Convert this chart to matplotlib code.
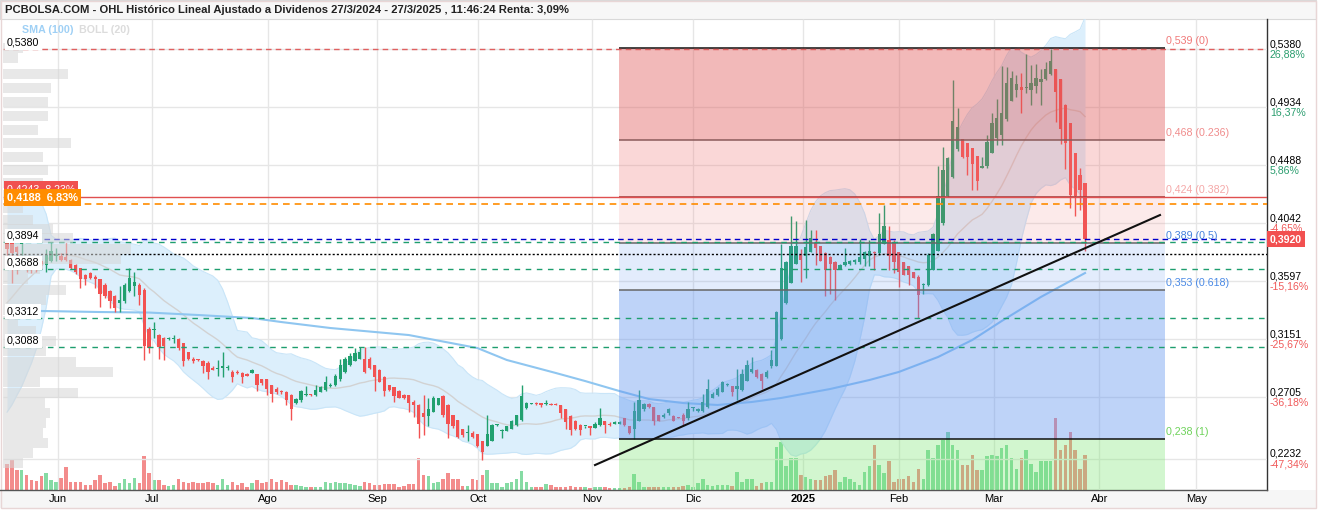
import matplotlib
matplotlib.use('Agg')
import matplotlib.pyplot as plt
import matplotlib.transforms as mtransforms
from matplotlib.patches import Rectangle
import numpy as np
import pandas as pd

plt.rcParams['font.family'] = ['Liberation Sans', 'DejaVu Sans']

# ---- velas diarias visibles (OHL, ajustado a dividendos) ----
opens = [
    .389, .389, .386, .388, .375, .374, .373, .375, .372, .375,
    .379, .379, .378, .376, .372, .370, .364, .366, .363, .361,
    .357, .352, .348, .343, .344, .352, .356, .357, .353, .323,
    .322, .318, .316, .315, .315, .315, .312, .305, .300, .300,
    .298, .297, .293, .292, .293, .293, .290, .290, .289, .288,
    .289, .288, .284, .284, .280, .277, .275, .274, .272, .266,
    .268, .272, .273, .272, .274, .276, .279, .280, .284, .290,
    .295, .298, .300, .300, .300, .295, .291, .286, .280, .278,
    .275, .272, .272, .267, .264, .258, .256, .259, .264, .271,
    .264, .257, .253, .246, .243, .243, .242, .237, .233, .237,
    .249, .244, .244, .246, .249, .253, .262, .265, .266, .266,
    .265, .265, .265, .264, .261, .256, .252, .249, .248, .248,
    .247, .249, .252, .250, .250, .250, .254, .248, .246, .252,
    .261, .265, .263, .257, .255, .258, .256, .255, .257, .254,
    .262, .260, .260, .263, .270, .272, .274, .280, .279, .277,
    .276, .283, .290, .291, .288, .286, .294, .294, .315, .343,
    .358, .373, .380, .379, .382, .389, .387, .381, .378, .374,
    .369, .372, .373, .374, .374, .377, .379, .382, .381, .388,
    .391, .390, .382, .374, .371, .367, .363, .357, .357, .368,
    .383, .404, .425, .440, .461, .469, .466, .462, .456, .447,
    .448, .458, .470, .472, .484, .498, .507, .509, .508, .507,
    .510, .513, .515, .519, .523, .515, .495, .481, .458, .441,
    .435,
]
highs = [
    .390, .390, .387, .390, .376, .375, .375, .377, .384, .389,
    .385, .381, .389, .377, .373, .370, .365, .367, .364, .361,
    .358, .353, .349, .356, .358, .370, .367, .358, .354, .324,
    .328, .319, .317, .317, .318, .316, .312, .305, .301, .300,
    .299, .298, .294, .299, .305, .295, .291, .291, .290, .289,
    .292, .288, .284, .284, .280, .278, .276, .275, .273, .270,
    .276, .279, .273, .280, .279, .287, .281, .288, .300, .301,
    .304, .308, .309, .309, .301, .295, .292, .287, .280, .278,
    .276, .273, .272, .268, .265, .272, .270, .271, .270, .272,
    .265, .257, .253, .246, .249, .244, .242, .237, .257, .250,
    .250, .246, .248, .253, .257, .280, .267, .266, .267, .266,
    .268, .266, .266, .264, .261, .257, .253, .250, .248, .248,
    .251, .262, .252, .251, .252, .252, .254, .248, .267, .276,
    .266, .266, .263, .257, .258, .262, .257, .255, .258, .267,
    .263, .262, .273, .284, .274, .278, .283, .281, .279, .292,
    .292, .299, .301, .292, .289, .291, .307, .337, .388, .375,
    .410, .406, .384, .407, .399, .399, .387, .382, .379, .375,
    .373, .385, .376, .377, .392, .383, .391, .383, .412, .418,
    .402, .391, .382, .374, .371, .367, .364, .358, .381, .397,
    .448, .463, .455, .514, .493, .469, .466, .462, .456, .455,
    .472, .489, .500, .525, .524, .521, .518, .520, .534, .526,
    .527, .523, .528, .538, .523, .515, .496, .481, .458, .447,
    .435,
]
lows = [
    .380, .358, .365, .380, .367, .366, .367, .369, .367, .374,
    .375, .375, .375, .369, .365, .354, .357, .361, .354, .340,
    .347, .339, .336, .336, .343, .351, .348, .341, .299, .304,
    .316, .300, .299, .314, .312, .307, .294, .299, .297, .298,
    .289, .284, .291, .287, .286, .291, .282, .288, .281, .287,
    .289, .275, .280, .272, .267, .273, .273, .264, .253, .265,
    .267, .271, .271, .271, .274, .275, .278, .279, .283, .289,
    .294, .298, .300, .289, .292, .275, .282, .271, .275, .267,
    .270, .269, .259, .255, .239, .241, .248, .259, .264, .255,
    .239, .247, .239, .240, .237, .239, .232, .222, .233, .237,
    .248, .239, .244, .246, .248, .252, .261, .265, .264, .263,
    .264, .264, .264, .254, .246, .241, .245, .241, .247, .241,
    .247, .248, .243, .248, .250, .250, .248, .242, .238, .252,
    .260, .262, .249, .252, .254, .257, .252, .254, .249, .253,
    .260, .259, .259, .262, .270, .271, .274, .279, .271, .268,
    .275, .283, .289, .285, .277, .285, .293, .294, .314, .342,
    .358, .373, .359, .362, .382, .372, .375, .348, .350, .345,
    .369, .371, .372, .373, .373, .371, .371, .368, .380, .388,
    .368, .366, .355, .364, .357, .362, .331, .350, .356, .368,
    .383, .403, .424, .439, .460, .454, .441, .430, .430, .447,
    .447, .458, .464, .464, .483, .498, .501, .489, .504, .495,
    .504, .495, .514, .518, .482, .465, .446, .416, .410, .414,
    .383,
]
closes = [
    .384, .381, .382, .389, .371, .370, .371, .373, .380, .383,
    .380, .376, .376, .370, .367, .361, .361, .362, .361, .350,
    .348, .344, .339, .345, .357, .362, .359, .349, .310, .308,
    .323, .309, .310, .316, .316, .308, .298, .300, .298, .299,
    .294, .290, .291, .293, .294, .293, .286, .289, .286, .287,
    .291, .280, .281, .277, .273, .274, .274, .268, .261, .269,
    .275, .273, .272, .276, .278, .282, .280, .287, .295, .300,
    .302, .304, .305, .290, .293, .286, .282, .275, .276, .271,
    .270, .270, .266, .264, .250, .255, .261, .270, .270, .257,
    .250, .248, .240, .241, .243, .240, .233, .228, .242, .249,
    .250, .245, .248, .252, .257, .271, .266, .266, .265, .264,
    .266, .264, .264, .258, .251, .245, .246, .245, .248, .247,
    .250, .254, .249, .249, .251, .251, .249, .243, .260, .268,
    .265, .263, .252, .252, .257, .261, .252, .254, .252, .261,
    .263, .261, .267, .277, .273, .277, .282, .280, .274, .279,
    .288, .295, .292, .286, .283, .290, .299, .336, .370, .374,
    .387, .387, .376, .386, .393, .385, .375, .368, .373, .368,
    .372, .374, .375, .376, .378, .382, .383, .381, .396, .402,
    .379, .374, .367, .364, .364, .362, .349, .357, .380, .396,
    .425, .445, .454, .483, .478, .455, .455, .450, .437, .448,
    .467, .481, .485, .489, .512, .516, .511, .507, .508, .512,
    .516, .515, .523, .529, .505, .477, .466, .426, .425, .430,
    .392,
]
volumes = [
    26, 31, 20, 20, 15, 10, 9, 14, 17, 10,
    8, 12, 23, 8, 8, 8, 5, 5, 10, 15,
    7, 8, 4, 7, 11, 7, 12, 7, 34, 17,
    10, 10, 5, 4, 5, 11, 8, 7, 8, 7,
    7, 8, 7, 5, 11, 5, 8, 5, 7, 3,
    7, 10, 7, 8, 11, 8, 10, 8, 5, 5,
    4, 3, 3, 3, 3, 8, 7, 8, 7, 7,
    6, 5, 4, 8, 7, 5, 5, 6, 6, 6,
    3, 4, 6, 6, 32, 15, 14, 7, 8, 11,
    17, 11, 11, 4, 4, 11, 10, 15, 20, 7,
    7, 3, 7, 8, 11, 19, 8, 3, 3, 3,
    6, 5, 3, 3, 3, 4, 3, 3, 3, 2,
    3, 3, 3, 2, 2, 2, 2, 3, 16, 8,
    3, 3, 3, 3, 3, 3, 3, 3, 4, 5,
    3, 7, 11, 5, 4, 5, 5, 5, 4, 18,
    8, 11, 11, 4, 7, 8, 8, 43, 48, 24,
    32, 32, 15, 13, 11, 10, 10, 14, 15, 20,
    8, 13, 11, 8, 5, 18, 24, 45, 25, 17,
    29, 8, 11, 11, 14, 8, 21, 11, 40, 32,
    45, 50, 58, 45, 40, 25, 25, 35, 20, 20,
    34, 35, 34, 42, 45, 32, 21, 32, 40, 26,
    18, 29, 29, 29, 72, 40, 45, 58, 40, 21,
    35,
]
# cierres anteriores a la ventana (solo alimentan la BOLL 20)
pre_closes = [.296, .292, .298, .294, .300, .297, .293, .299, .305, .356,
              .374, .381, .387, .379, .385, .389, .383, .386, .381]

# SMA (100)
sma_idx = [7, 19, 29, 39, 50, 56, 66, 82, 96, 102, 112, 118, 125, 131, 138,
           145, 152, 158, 168, 176, 182, 190, 197, 203, 211, 220]
sma_val = [.3367, .3359, .3355, .3336, .3313, .3282, .3236, .3182, .3082, .2990,
           .2890, .2828, .2751, .2690, .2659, .2644, .2667, .2698, .2767, .2836,
           .2898, .3013, .3144, .3290, .3475, .3659]

# perfil de volumen por precio (izquierda)
profile_prices = [.5390, .5313, .5190, .5082, .4975, .4867, .4759, .4659, .4552, .4451,
                  .4351, .4259, .4159, .4067, .3998, .3929, .3844, .3767, .3690, .3613,
                  .3528, .3451, .3374, .3290, .3213, .3136, .3059, .2975, .2898, .2821,
                  .2736, .2659, .2582, .2505, .2429, .2352, .2275, .2197]
profile_vols = [20, 15, 65, 48, 45, 45, 35, 68, 40, 45,
                40, 30, 20, 30, 50, 70, 128, 118, 37, 25,
                63, 43, 33, 15, 33, 53, 43, 73, 110, 37,
                75, 42, 47, 43, 40, 45, 30, 20]

month_labels = ['Jun', 'Jul', 'Ago', 'Sep', 'Oct', 'Nov', 'Dic', '2025', 'Feb', 'Mar', 'Abr', 'May']
month_pos = [10.4, 29.6, 53.3, 75.5, 96.1, 119.4, 140.0, 162.4, 182.0, 201.4, 222.9, 242.7]

axis_ticks = [0.5380, 0.4934, 0.4488, 0.4042, 0.3597, 0.3151, 0.2705, 0.2232]
axis_pcts = ['26,88%', '16,37%', '5,86%', '-4,65%', '-15,16%', '-25,67%', '-36,18%', '-47,34%']

fib_levels = [0.539, 0.468, 0.424, 0.389, 0.353, 0.238]
fib_ratios = ['0', '0.236', '0.382', '0.5', '0.618', '1']
fib_start, fib_end = 124.9, 236.3

support_levels = [0.3894, 0.3688, 0.3312, 0.3088]
top_level = 0.5380
red_level, red_pct = 0.4243, '8,23%'
orange_level, orange_pct = 0.4188, '6,83%'
avg_level = 0.3805
last_price = 0.3920
trend_x = [120.0, 235.3]
trend_y = [0.2182, 0.4105]

GREEN = '#21a06f'
RED = '#f25252'

W, H = 1320, 512


def fx(x):
    return x / W


def fy(y):
    return 1 - y / H


def fmt(v, nd=4):
    return f'{v:.{nd}f}'.replace('.', ',')


fig = plt.figure(figsize=(W / 100, H / 100), dpi=100)
fig.patch.set_facecolor('white')

rect = [fx(3), fy(490), 1264 / W, 471 / H]
ax_vol = fig.add_axes(rect, zorder=1)
ax = fig.add_axes(rect, zorder=2)
ax_vp = fig.add_axes(rect, zorder=3)

xmin, xmax = -0.816, 257.14
ymin, ymax = 0.1990, 0.5613
PX = 471 / (ymax - ymin)  # pixeles por unidad de precio

for a in (ax_vol, ax, ax_vp):
    a.set_ylim(ymin, ymax)
    a.axis('off')
ax_vol.set_xlim(xmin, xmax)
ax.set_xlim(xmin, xmax)
ax_vp.set_xlim(0, 1264)
ax_vol.set_ylim(0, 471)
ax.patch.set_alpha(0)
ax_vp.patch.set_alpha(0)

n = len(closes)
idx = np.arange(n)
o = np.array(opens)
h = np.array(highs)
l = np.array(lows)
c = np.array(closes)
up = c >= o

# ===== volumen =====
ax_vol.bar(idx, volumes, width=0.7, color=np.where(up, '#86dba4', '#f38c8c'), linewidth=0)

# ===== rejilla =====
ax.hlines(axis_ticks, xmin, xmax, colors='#e6e6e6', lw=1, zorder=0)
ax.vlines(month_pos, ymin, ymax, colors='#e6e6e6', lw=1, zorder=0)

# ===== Bollinger (20) =====
full = pd.Series(pre_closes + closes)
mid = full.rolling(20).mean().iloc[len(pre_closes):].values
sd = full.rolling(20).std(ddof=0).iloc[len(pre_closes):].values
ax.fill_between(idx, mid - 2 * sd, mid + 2 * sd, color='#dceffc', lw=0, zorder=1)
ax.plot(idx, mid + 2 * sd, color='#c9e5f8', lw=0.8, zorder=1)
ax.plot(idx, mid - 2 * sd, color='#c9e5f8', lw=0.8, zorder=1)
ax.plot(idx, mid, color='#d2d2d2', lw=1, zorder=1.5)

# ===== SMA (100) =====
ax.plot(sma_idx, sma_val, color='#8fc6f0', lw=1.5, zorder=2)

# ===== velas =====
col = np.where(up, GREEN, RED)
ax.vlines(idx, l, h, colors=col, lw=1, zorder=3)
body_low = np.minimum(o, c)
body_h = np.maximum(np.abs(c - o), 0.0008)
ax.bar(idx, body_h, bottom=body_low, width=0.68, color=col, linewidth=0, zorder=3)

# ===== Fibonacci =====
zone_styles = [('#e05a5a', 0.42), ('#f06e6e', 0.27), ('#f06e6e', 0.14),
               ('#6496f0', 0.18), ('#6496f0', 0.42)]
for (hi, lo), (zc, za) in zip(zip(fib_levels[:-1], fib_levels[1:]), zone_styles):
    ax.add_patch(Rectangle((fib_start, lo), fib_end - fib_start, hi - lo,
                           facecolor=zc, alpha=za, lw=0, zorder=4))
ax.add_patch(Rectangle((fib_start, ymin), fib_end - fib_start, fib_levels[-1] - ymin,
                       facecolor='#78e66e', alpha=0.33, lw=0, zorder=4))
fib_line_cols = ['#111111', '#8a5a5a', '#9a3a3a', '#666666', '#666666', '#111111']
fib_text_cols = ['#f07878', '#f08c8c', '#f5a8a8', '#4682dc', '#4a8ae6', '#6ed25a']
for lev, lc in zip(fib_levels, fib_line_cols):
    ax.hlines(lev, fib_start, fib_end, colors=lc, lw=1.1, zorder=5)

# ===== lineas horizontales =====
ax.hlines(top_level, xmin, xmax, colors='#e06060', lw=1, linestyles=(0, (4, 3)), zorder=5)
ax.hlines(red_level, xmin, xmax, colors='#e05050', lw=1, zorder=5)
ax.hlines(orange_level, xmin, xmax, colors='#ff8c00', lw=1.2, linestyles=(0, (4, 3)), zorder=5)
ax.hlines(support_levels, xmin, xmax, colors='#1e9e6e', lw=1, linestyles=(0, (4, 4)), zorder=5)
ax.hlines(avg_level, xmin, xmax, colors='#000000', lw=1, linestyles=(0, (1.5, 1.5)), zorder=5)
ax.hlines(last_price, 7.5, xmax, colors='#0000cc', lw=1, linestyles=(0, (4, 3)), zorder=5)

# linea de tendencia
ax.plot(trend_x, trend_y, color='#111111', lw=1.5, zorder=6)

# ===== perfil de volumen =====
ax_vp.barh(profile_prices, profile_vols, height=0.0074, left=0, color='#d6d6d6',
           alpha=0.55, lw=0, zorder=1)

# etiquetas izquierda
lbl_box = dict(boxstyle='square,pad=0.2', facecolor='white', edgecolor='none')
for lev in [top_level] + support_levels:
    ax_vp.text(4, lev + 6.5 / PX, fmt(lev), fontsize=7.7, ha='left', va='center',
               bbox=lbl_box, zorder=10, clip_on=False)
ax_vp.text(4, red_level + 8 / PX, f'{fmt(red_level)}  {red_pct}', fontsize=7.7, color='white',
           ha='left', va='center', zorder=10,
           bbox=dict(boxstyle='square,pad=0.25', facecolor='#f05050', edgecolor='none'))
ax_vp.text(4, orange_level + 7 / PX, f'{fmt(orange_level)}  {orange_pct}', fontsize=7.9,
           color='white', fontweight='bold', ha='left', va='center', zorder=11,
           bbox=dict(boxstyle='square,pad=0.3', facecolor='#ff8c00', edgecolor='none'))

# leyenda indicadores
ax_vp.text(19, ymax - 11 / PX, 'SMA (100)', color='#9fd0f5', fontsize=7.7,
           fontweight='bold', va='center', zorder=10)
ax_vp.text(76, ymax - 11 / PX, 'BOLL (20)', color='#dcdcdc', fontsize=7.7,
           fontweight='bold', va='center', zorder=10)

# etiquetas Fibonacci
fib_px = lambda i: 7 + 4.9 * i - 3
for lev, rt, tc in zip(fib_levels, fib_ratios, fib_text_cols):
    ax_vp.text(fib_px(fib_end) + 1, lev + 2 / PX, f'{fmt(lev, 3)} ({rt})', color=tc,
               fontsize=7.7, ha='left', va='bottom', zorder=10, clip_on=False)

# eje derecho
for t, p in zip(axis_ticks, axis_pcts):
    ax_vp.text(1267, t + 2 / PX, fmt(t), fontsize=7.6, ha='left', va='baseline',
               clip_on=False, zorder=10)
    ax_vp.text(1267, t - 8.5 / PX, p, fontsize=7.6, ha='left', va='baseline',
               color='#f05a5a' if p.startswith('-') else '#2a9d6e', clip_on=False, zorder=10)
ax_vp.text(1267, last_price, fmt(last_price), fontsize=7.6, color='white', fontweight='bold',
           ha='left', va='center', clip_on=False, zorder=12,
           bbox=dict(boxstyle='square,pad=0.3', facecolor='#f25050', edgecolor='none'))

# ===== marco, titulo y eje de fechas =====
fig.add_artist(Rectangle((0, fy(508)), fx(1316), (508 - 490) / H, transform=fig.transFigure,
                         facecolor='#f6f6f6', edgecolor='none', zorder=0))
fig.add_artist(Rectangle((0, fy(19)), fx(1316), 19 / H, transform=fig.transFigure,
                         facecolor='#f7f7f7', edgecolor='#d9d9d9', lw=0.8, zorder=0))
fig.add_artist(plt.Line2D([fx(1267), fx(1267)], [fy(19), fy(490)], transform=fig.transFigure,
                          color='#333333', lw=1))
fig.add_artist(plt.Line2D([fx(0), fx(1267)], [fy(490), fy(490)], transform=fig.transFigure,
                          color='#555555', lw=1))
fig.add_artist(Rectangle((fx(0.5), fy(508)), fx(1315.5), 507.5 / H, transform=fig.transFigure,
                         facecolor='none', edgecolor='#e8d6d6', lw=1))

fig.text(fx(5), fy(10), 'PCBOLSA.COM - OHL Histórico Lineal Ajustado a Dividenos 27/3/2024 - '
         '27/3/2025 , 11:46:24 Renta: 3,09%', fontsize=8.15, fontweight='bold',
         color='#222222', va='center', ha='left')

trans_x = mtransforms.blended_transform_factory(ax.transData, ax.transAxes)
for lab, pos in zip(month_labels, month_pos):
    ax.text(pos, -9.5 / 471, lab, transform=trans_x, ha='center', va='center', fontsize=8,
            fontweight='bold' if lab == '2025' else 'normal', clip_on=False)

fig.savefig('out.png', dpi=100, facecolor='white')
